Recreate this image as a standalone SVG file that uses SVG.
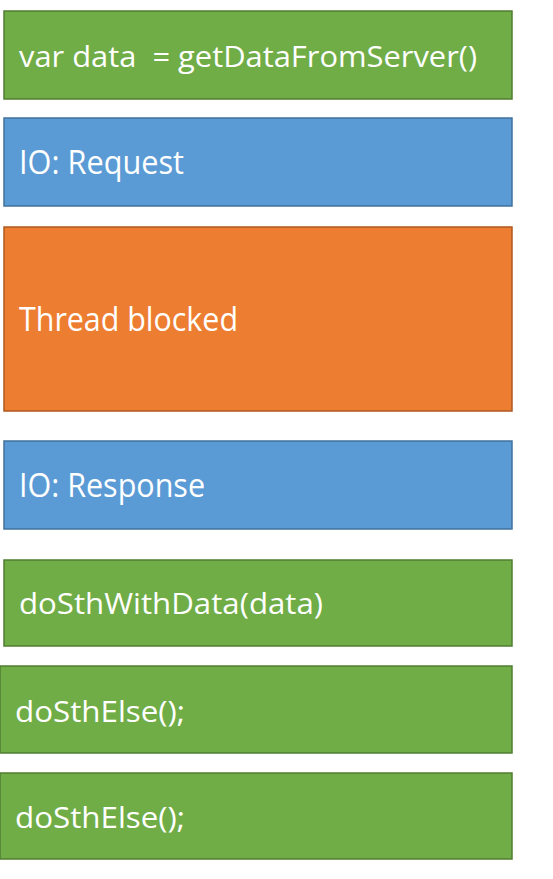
<svg xmlns="http://www.w3.org/2000/svg" width="553" height="879" viewBox="0 0 553 879">
  <style>
    .green { fill: #70AD47; stroke: #507E32; stroke-width: 1.5; }
    .blue { fill: #5B9BD5; stroke: #41719C; stroke-width: 1.5; }
    .orange { fill: #ED7D31; stroke: #AE5A21; stroke-width: 1.5; }
    .label { fill: #FFFFFF; font-family: "Open Sans", "Liberation Sans", sans-serif; font-size: 30px; white-space: pre; }
    .big { font-size: 32px; }
  </style>
  <rect width="553" height="879" fill="#FFFFFF"/>
  <g id="call">
    <rect class="green" x="4" y="11" width="508" height="88"/>
    <text class="label" x="19" y="67" textLength="458" lengthAdjust="spacingAndGlyphs" xml:space="preserve">var data  = getDataFromServer()</text>
  </g>
  <g id="io-request">
    <rect class="blue" x="4" y="118" width="508" height="88"/>
    <text class="label big" x="19" y="174" textLength="165" lengthAdjust="spacingAndGlyphs">IO: Request</text>
  </g>
  <g id="thread-blocked">
    <rect class="orange" x="4" y="227" width="508" height="184"/>
    <text class="label big" x="19" y="331" textLength="219" lengthAdjust="spacingAndGlyphs">Thread blocked</text>
  </g>
  <g id="io-response">
    <rect class="blue" x="4" y="441" width="508" height="88"/>
    <text class="label big" x="19" y="497" textLength="186" lengthAdjust="spacingAndGlyphs">IO: Response</text>
  </g>
  <g id="do-with-data">
    <rect class="green" x="4" y="560" width="508" height="86"/>
    <text class="label" x="19" y="614" textLength="304" lengthAdjust="spacingAndGlyphs">doSthWithData(data)</text>
  </g>
  <g id="do-else-1">
    <rect class="green" x="0" y="666" width="512" height="87"/>
    <text class="label" x="15" y="722" textLength="170" lengthAdjust="spacingAndGlyphs">doSthElse();</text>
  </g>
  <g id="do-else-2">
    <rect class="green" x="0" y="773" width="512" height="86"/>
    <text class="label" x="15" y="828" textLength="170" lengthAdjust="spacingAndGlyphs">doSthElse();</text>
  </g>
  <g id="connectors"/>
</svg>
